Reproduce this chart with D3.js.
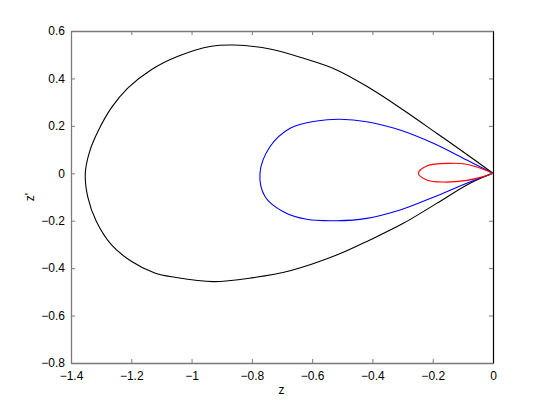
<!DOCTYPE html>
<html>
<head>
<meta charset="utf-8">
<script src="https://cdn.jsdelivr.net/npm/d3@7"></script>
<style>
  body { margin: 0; background: #fff; }
  svg { display: block; }
  text { font-family: "Liberation Sans", Arial, Helvetica, sans-serif; }
</style>
</head>
<body>
<div id="chart"></div>
<script>
// axis ticks
var xTicks = [-1.4, -1.2, -1, -0.8, -0.6, -0.4, -0.2, 0];
var yTicks = [-0.8, -0.6, -0.4, -0.2, 0, 0.2, 0.4, 0.6];

// outer loop (black): top half then bottom half
var blackZ  = [0, -0.076, -0.187, -0.2975, -0.408, -0.5185, -0.629, -0.74, -0.86, -0.9345, -1.045, -1.1336, -1.2109, -1.2663, -1.3104, -1.338, -1.3526,
               -1.3436, -1.3161, -1.2663, -1.2, -1.1223, -1.056, -0.928, -0.795, -0.673, -0.5185, -0.408, -0.2975, -0.187, -0.076, 0];
var blackDZ = [0, 0.07, 0.169, 0.267, 0.3585, 0.436, 0.485, 0.524, 0.541, 0.5355, 0.4933, 0.4368, 0.36, 0.2756, 0.1771, 0.0927, 0,
               -0.1042, -0.2025, -0.3011, -0.3711, -0.4205, -0.4386, -0.457, -0.44, -0.411, -0.345, -0.281, -0.211, -0.127, -0.042, 0];

// middle loop (blue)
var blueZ  = [0, -0.087, -0.198, -0.3085, -0.419, -0.5075, -0.585, -0.673, -0.74, -0.773,
              -0.756, -0.6955, -0.618, -0.5185, -0.419, -0.3085, -0.198, -0.087, 0];
var blueDZ = [0, 0.056, 0.1265, 0.1826, 0.2176, 0.2277, 0.2206, 0.19, 0.112, 0,
              -0.0987, -0.162, -0.194, -0.2, -0.19, -0.155, -0.101, -0.042, 0];

// inner loop (red)
var redZ  = [0, -0.032, -0.087, -0.1425, -0.22, -0.2476, -0.22, -0.165, -0.087, -0.032, 0];
var redDZ = [0, 0.017, 0.038, 0.042, 0.031, 0, -0.028, -0.037, -0.03, -0.014, 0];

var width = 545, height = 410;
var plotLeft = 71, plotRight = 493, plotTop = 31, plotBottom = 363;

var svg = d3.select("#chart").append("svg")
  .attr("width", width).attr("height", height);

var x = d3.scaleLinear().domain([-1.4, 0]).range([plotLeft, plotRight]);
var y = d3.scaleLinear().domain([-0.8, 0.6]).range([plotBottom, plotTop]);

function fmt(v) {
  var s = String(Math.round(v * 10) / 10);
  return s.replace("-", "\u2212");
}

// curves
var series = [
  {z: blackZ, dz: blackDZ, color: "#000000"},
  {z: blueZ, dz: blueDZ, color: "#0000ff"},
  {z: redZ, dz: redDZ, color: "#ff0000"}
];

var line = d3.line()
  .x(function(d) { return x(d[0]); })
  .y(function(d) { return y(d[1]); })
  .curve(d3.curveCatmullRom.alpha(0.5));

series.forEach(function(s) {
  var pts = s.z.map(function(v, i) { return [v, s.dz[i]]; });
  svg.append("path")
    .attr("d", line(pts))
    .attr("fill", "none")
    .attr("stroke", s.color)
    .attr("stroke-width", 1.1);
});

// axes (ticks point inwards, mirrored on top/right)
var gray = "#7a7a7a";
var tl = 4;

var gx = svg.append("g").attr("transform", "translate(0," + plotBottom + ")")
  .call(d3.axisBottom(x).tickValues(xTicks).tickSizeInner(-tl).tickSizeOuter(0).tickPadding(8).tickFormat(fmt));
var gxt = svg.append("g").attr("transform", "translate(0," + plotTop + ")")
  .call(d3.axisTop(x).tickValues(xTicks).tickSizeInner(-tl).tickSizeOuter(0).tickFormat(""));
var gy = svg.append("g").attr("transform", "translate(" + plotLeft + ",0)")
  .call(d3.axisLeft(y).tickValues(yTicks).tickSizeInner(-tl).tickSizeOuter(0).tickPadding(6).tickFormat(fmt));
var gyr = svg.append("g").attr("transform", "translate(" + plotRight + ",0)")
  .call(d3.axisRight(y).tickValues(yTicks).tickSizeInner(-tl).tickSizeOuter(0).tickFormat(""));

[gx, gxt, gy, gyr].forEach(function(g) {
  g.select(".domain").attr("stroke", gray).attr("stroke-width", 1.3);
  g.selectAll(".tick line").attr("stroke", gray);
  g.selectAll(".tick text").attr("fill", "#000").style("font-size", "12px")
    .style("font-family", "'Liberation Sans', Arial, Helvetica, sans-serif");
});
gyr.select(".domain").attr("stroke", "#000").attr("stroke-width", 1.2);

// axis labels
svg.append("text")
  .attr("x", (plotLeft + plotRight) / 2 - 0.5).attr("y", 394)
  .attr("text-anchor", "middle")
  .style("font-size", "12px")
  .text("z");

svg.append("text")
  .attr("transform", "translate(34," + ((plotTop + plotBottom) / 2) + ") rotate(-90)")
  .attr("text-anchor", "middle")
  .style("font-size", "12px")
  .text("z'");
</script>
</body>
</html>
